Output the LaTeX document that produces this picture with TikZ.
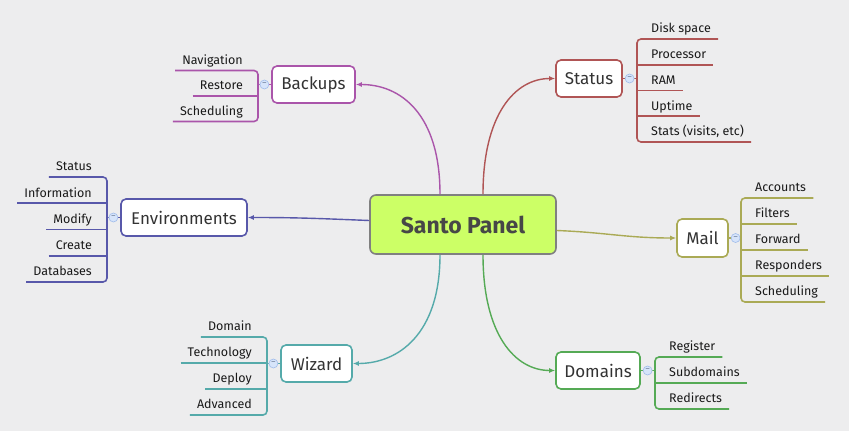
\documentclass[tikz,border=0pt]{standalone}
\usepackage{fontspec}
\setmainfont{Fira Sans}
\definecolor{paper}{RGB}{237,237,238}
\definecolor{hubfill}{RGB}{204,255,102}
\definecolor{hubdraw}{RGB}{128,128,128}
\definecolor{backupc}{RGB}{170,85,170}
\definecolor{statusc}{RGB}{176,85,85}
\definecolor{envc}{RGB}{88,88,170}
\definecolor{mailc}{RGB}{170,170,85}
\definecolor{wizc}{RGB}{85,170,170}
\definecolor{domc}{RGB}{85,170,85}
\definecolor{knobfill}{RGB}{214,228,250}
\definecolor{knobdraw}{RGB}{160,188,235}
\usetikzlibrary{arrows.meta,positioning}
\tikzset{
  topic/.style={draw=#1, line width=1.6pt, rounded corners=5pt, fill=white,
    inner sep=0pt, minimum height=37pt, text=black!80,
    font=\fontsize{17}{20}\selectfont},
  leaf/.style={inner xsep=7pt, inner ysep=3pt, text height=9pt, text depth=3pt,
    font=\fontsize{12.5}{15}\selectfont, text=black!90},
  link/.style={draw=#1, line width=1.4pt, -{Latex[length=6pt,width=5pt]}},
  uline/.style={draw=#1, line width=1.6pt},
  knob/.style={circle, draw=knobdraw, fill=knobfill, inner sep=0pt,
    minimum size=9pt, line width=0.6pt, text=knobdraw!60!black,
    font=\fontsize{8}{8}\selectfont},
}
\begin{document}
\begin{tikzpicture}[x=1pt, y=-1pt]
  \fill[paper] (0,0) rectangle (849,431);
  \useasboundingbox (0,0) rectangle (849,431);

  % central topic
  \node[draw=hubdraw, fill=hubfill, line width=1.6pt, rounded corners=6pt,
        minimum width=186pt, minimum height=59pt, text=black!72,
        font=\fontsize{23}{28}\selectfont\bfseries] (hub) at (463,224.5) {Santo Panel};

  % main topics
  \node[topic=backupc, minimum width=83pt] (backups) at (313.5,84.5) {Backups};
  \node[topic=statusc, minimum width=66pt] (status) at (589,78.5) {Status};
  \node[topic=envc, minimum width=126pt] (envs) at (184,217.5) {Environments};
  \node[topic=mailc, minimum width=51pt, minimum height=38pt] (mail) at (702.5,238) {Mail};
  \node[topic=wizc, minimum width=71pt] (wizard) at (316.5,363.5) {Wizard};
  \node[topic=domc, minimum width=84pt] (domains) at (598,370.5) {Domains};

  \draw[link=backupc] ([xshift=-23pt]hub.north) .. controls +(0,-80) and +(45,0) .. (backups.east);
  \draw[link=statusc] ([xshift=20pt]hub.north) .. controls +(0,-80) and +(-40,0) .. (status.west);
  \draw[link=envc] ([yshift=4pt]hub.west) .. controls +(-50,-2) and +(50,0) .. (envs.east);
  \draw[link=mailc] ([yshift=-6pt]hub.east) .. controls +(50,2) and +(-50,0) .. (mail.west);
  \draw[link=wizc] ([xshift=-23pt]hub.south) .. controls +(0,80) and +(45,0) .. (wizard.east);
  \draw[link=domc] ([xshift=20pt]hub.south) .. controls +(0,80) and +(-40,0) .. (domains.west);

  % Backups
  \coordinate (bkb) at (258,84.5);
  \draw[uline=backupc] (backups) -- (bkb);
  \node[knob, left=2pt of backups] (bkk) {–};
  \foreach \t [count=\i] in {Navigation,Restore,Scheduling}
    \node[leaf, anchor=south east] (bk\i) at (250,45+25.5*\i) {\t};
  \draw[uline=backupc, rounded corners=4pt] (bk1.south west) -- (bkb |- bk1.south)
    -- (bkb |- bk3.south) -- (bk3.south west);
  \draw[uline=backupc] (bk2.south west) -- (bkb |- bk2.south);

  % Status
  \coordinate (stb) at (637,78.5);
  \draw[uline=statusc] (status) -- (stb);
  \node[knob, right=2pt of status] (stk) {–};
  \foreach \t [count=\i] in {Disk space,Processor,RAM,Uptime,{Stats (visits, etc)}}
    \node[leaf, anchor=south west] (st\i) at (644,13.25+25.75*\i) {\t};
  \draw[uline=statusc, rounded corners=4pt] (st1.south east) -- (stb |- st1.south)
    -- (stb |- st5.south) -- (st5.south east);
  \foreach \i in {2,3,4}
    \draw[uline=statusc] (stb |- st\i.south) -- (st\i.south east);

  % Environments
  \coordinate (evb) at (107,217.5);
  \draw[uline=envc] (envs) -- (evb);
  \node[knob, left=2pt of envs] (evk) {–};
  \foreach \t [count=\i] in {Status,Information,Modify,Create,Databases}
    \node[leaf, anchor=south east] (ev\i) at (99,150.75+26.25*\i) {\t};
  \draw[uline=envc, rounded corners=4pt] (ev1.south west) -- (evb |- ev1.south)
    -- (evb |- ev5.south) -- (ev5.south west);
  \foreach \i in {2,3,4}
    \draw[uline=envc] (ev\i.south west) -- (evb |- ev\i.south);

  % Mail
  \coordinate (mlb) at (741,238);
  \draw[uline=mailc] (mail) -- (mlb);
  \node[knob, right=2pt of mail] (mlk) {–};
  \foreach \t [count=\i] in {Accounts,Filters,Forward,Responders,Scheduling}
    \node[leaf, anchor=south west] (ml\i) at (748,172+26*\i) {\t};
  \draw[uline=mailc, rounded corners=4pt] (ml1.south east) -- (mlb |- ml1.south)
    -- (mlb |- ml5.south) -- (ml5.south east);
  \foreach \i in {2,3,4}
    \draw[uline=mailc] (mlb |- ml\i.south) -- (ml\i.south east);

  % Wizard
  \coordinate (wzb) at (267,363.5);
  \draw[uline=wizc] (wizard) -- (wzb);
  \node[knob, left=2pt of wizard] (wzk) {–};
  \foreach \t [count=\i] in {Domain,Technology,Deploy,Advanced}
    \node[leaf, anchor=south east] (wz\i) at (259,311+26*\i) {\t};
  \draw[uline=wizc, rounded corners=4pt] (wz1.south west) -- (wzb |- wz1.south)
    -- (wzb |- wz4.south) -- (wz4.south west);
  \foreach \i in {2,3}
    \draw[uline=wizc] (wz\i.south west) -- (wzb |- wz\i.south);

  % Domains
  \coordinate (dmb) at (655,370.5);
  \draw[uline=domc] (domains) -- (dmb);
  \node[knob, right=2pt of domains] (dmk) {–};
  \foreach \t [count=\i] in {Register,Subdomains,Redirects}
    \node[leaf, anchor=south west] (dm\i) at (662,331+26*\i) {\t};
  \draw[uline=domc, rounded corners=4pt] (dm1.south east) -- (dmb |- dm1.south)
    -- (dmb |- dm3.south) -- (dm3.south east);
  \draw[uline=domc] (dmb |- dm2.south) -- (dm2.south east);
\end{tikzpicture}
\end{document}
